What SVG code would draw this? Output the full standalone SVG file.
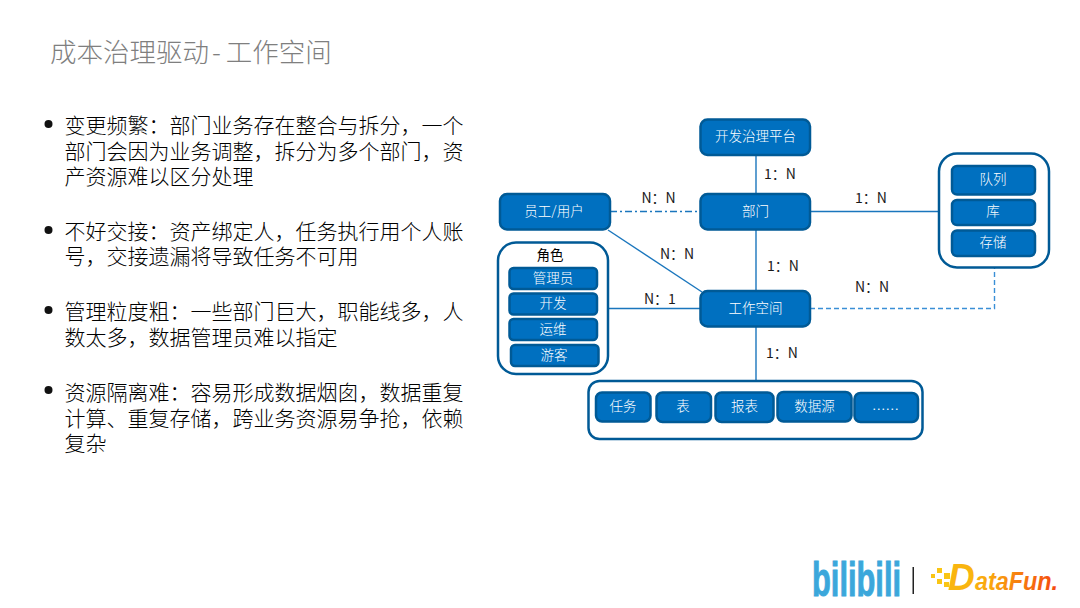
<svg xmlns="http://www.w3.org/2000/svg" width="1080" height="608" viewBox="0 0 1080 608">
<defs>
<linearGradient id="df" gradientUnits="userSpaceOnUse" x1="947" x2="1058" y1="0" y2="0"><stop offset="0" stop-color="#f9c514"/><stop offset="0.4" stop-color="#f9a50e"/><stop offset="1" stop-color="#f4470f"/></linearGradient>
</defs>
<style>
text{font-family:"Noto Sans CJK SC","Noto Sans",sans-serif}
.title{font-size:26.500px;fill:#7f7f7f;font-weight:300}
.body{font-size:21px;fill:#000;font-weight:300}
.n rect{fill:#0070c0;stroke:#005a96;stroke-width:2.500}
.n text{fill:#fff;font-size:13.500px;text-anchor:middle;font-weight:300}
.box{fill:#fff;stroke:#005a96;stroke-width:2.800}
.lab{font-size:14px;fill:#1a1a1a;font-weight:400}
.c{fill:none;stroke:#1a76bd;stroke-width:1.400}
.logo{font-family:"Liberation Sans","Noto Sans",sans-serif;font-weight:700}
</style>
<rect width="1080" height="608" fill="#fff"/>
<text class="title" x="50" y="62">成本治理驱动<tspan dx="3">-</tspan><tspan dx="5">工作空间</tspan></text>
<g id="bullets">
<circle cx="48.500" cy="124" r="4" fill="#111"/>
<text class="body" x="64.500" y="133">变更频繁&#xFF1A;部门业务存在整合与拆分&#xFF0C;一个</text>
<text class="body" x="64.500" y="159">部门会因为业务调整&#xFF0C;拆分为多个部门&#xFF0C;资</text>
<text class="body" x="64.500" y="184">产资源难以区分处理</text>
<circle cx="48.500" cy="230" r="4" fill="#111"/>
<text class="body" x="64.500" y="239">不好交接&#xFF1A;资产绑定人&#xFF0C;任务执行用个人账</text>
<text class="body" x="64.500" y="264">号&#xFF0C;交接遗漏将导致任务不可用</text>
<circle cx="48.500" cy="310" r="4" fill="#111"/>
<text class="body" x="64.500" y="319">管理粒度粗&#xFF1A;一些部门巨大&#xFF0C;职能线多&#xFF0C;人</text>
<text class="body" x="64.500" y="345">数太多&#xFF0C;数据管理员难以指定</text>
<circle cx="48.500" cy="390" r="4" fill="#111"/>
<text class="body" x="64.500" y="400">资源隔离难&#xFF1A;容易形成数据烟囱&#xFF0C;数据重复</text>
<text class="body" x="64.500" y="426">计算、重复存储&#xFF0C;跨业务资源易争抢&#xFF0C;依赖</text>
<text class="body" x="64.500" y="451">复杂</text>
</g>
<g id="connectors">
<path class="c" d="M756 155V381"/>
<path class="c" d="M610 211.500H700" stroke-dasharray="7 3 2 3"/>
<path class="c" d="M810 211.500H938"/>
<path class="c" d="M608 230L702 292"/>
<path class="c" d="M608 308.500H700"/>
<path class="c" d="M810 308.500H994.500V268" stroke-dasharray="5 3" style="stroke:#3a8fd6"/>
</g>
<g id="labels">
<text class="lab" x="764" y="179">1&#xFF1A;N</text>
<text class="lab" x="641.500" y="203">N&#xFF1A;N</text>
<text class="lab" x="855" y="203">1&#xFF1A;N</text>
<text class="lab" x="660" y="259">N&#xFF1A;N</text>
<text class="lab" x="767" y="271">1&#xFF1A;N</text>
<text class="lab" x="855" y="292">N&#xFF1A;N</text>
<text class="lab" x="644" y="304">N&#xFF1A;1</text>
<text class="lab" x="766" y="358">1&#xFF1A;N</text>
</g>
<g id="platform" class="n"><rect x="700.500" y="119.500" width="109.500" height="35.500" rx="7"/><text x="755.500" y="140.500">开发治理平台</text></g>
<g id="dept" class="n"><rect x="700.500" y="194" width="109.500" height="35.500" rx="7"/><text x="755.500" y="215.500">部门</text></g>
<g id="user" class="n"><rect x="500" y="194" width="110" height="35.500" rx="7"/><text x="554" y="215.500">员工/用户</text></g>
<g id="workspace" class="n"><rect x="700.500" y="291" width="109.500" height="35.500" rx="7"/><text x="755.500" y="312.500">工作空间</text></g>
<g id="roles" class="n">
<rect class="box" style="fill:#fff" x="498" y="242.500" width="110" height="131.500" rx="18"/>
<text x="550" y="260" style="fill:#000;font-weight:400">角色</text>
<rect x="509.500" y="268" width="87.500" height="21" rx="4"/><text x="553" y="282.500">管理员</text>
<rect x="509.500" y="293.500" width="87.500" height="21" rx="4"/><text x="553" y="307.500">开发</text>
<rect x="509.500" y="319" width="87.500" height="21" rx="4"/><text x="553" y="333.500">运维</text>
<rect x="511" y="345" width="87.500" height="21" rx="4"/><text x="554" y="359.500">游客</text>
</g>
<g id="storage" class="n">
<rect class="box" style="fill:#fff" x="939" y="153.500" width="110" height="114" rx="18"/>
<rect x="952" y="166" width="83" height="28.500" rx="5"/><text x="993" y="184">队列</text>
<rect x="952" y="200" width="83" height="25" rx="5"/><text x="993" y="216">库</text>
<rect x="952" y="230.500" width="83" height="25.500" rx="5"/><text x="993" y="247">存储</text>
</g>
<g id="assets" class="n">
<rect class="box" style="fill:#fff" x="588.500" y="381" width="334" height="58" rx="11"/>
<rect x="596" y="392.500" width="54.500" height="29" rx="6"/><text x="623" y="411">任务</text>
<rect x="656.500" y="392.500" width="54.500" height="29.500" rx="6"/><text x="683" y="411">表</text>
<rect x="715.500" y="392.500" width="58" height="29.500" rx="6"/><text x="744.500" y="411">报表</text>
<rect x="777.500" y="392" width="74" height="29.500" rx="6"/><text x="814.500" y="411">数据源</text>
<rect x="854.500" y="393" width="63.500" height="29" rx="6"/><text x="885.500" y="414">……</text>
</g>
<g id="logos">
<text class="logo" x="812" y="596" font-size="48" fill="#3ba7db" stroke="#3ba7db" stroke-width="1" textLength="89" lengthAdjust="spacingAndGlyphs">bilibili</text>
<rect x="912.500" y="567" width="1.500" height="27" fill="#222"/>
<g fill="#f9c514"><rect x="931" y="574" width="4" height="4"/><rect x="937" y="568" width="5" height="5"/><rect x="937" y="579" width="5" height="5"/><rect x="944" y="573" width="6" height="6"/><rect x="944" y="582" width="5" height="5"/></g>
<text class="logo" x="948" y="590" font-size="37" font-style="italic" fill="#f9b50f">D</text>
<text class="logo" x="975" y="590" font-size="25" font-style="italic" fill="url(#df)" textLength="83" lengthAdjust="spacingAndGlyphs">ataFun.</text>
</g>
</svg>
